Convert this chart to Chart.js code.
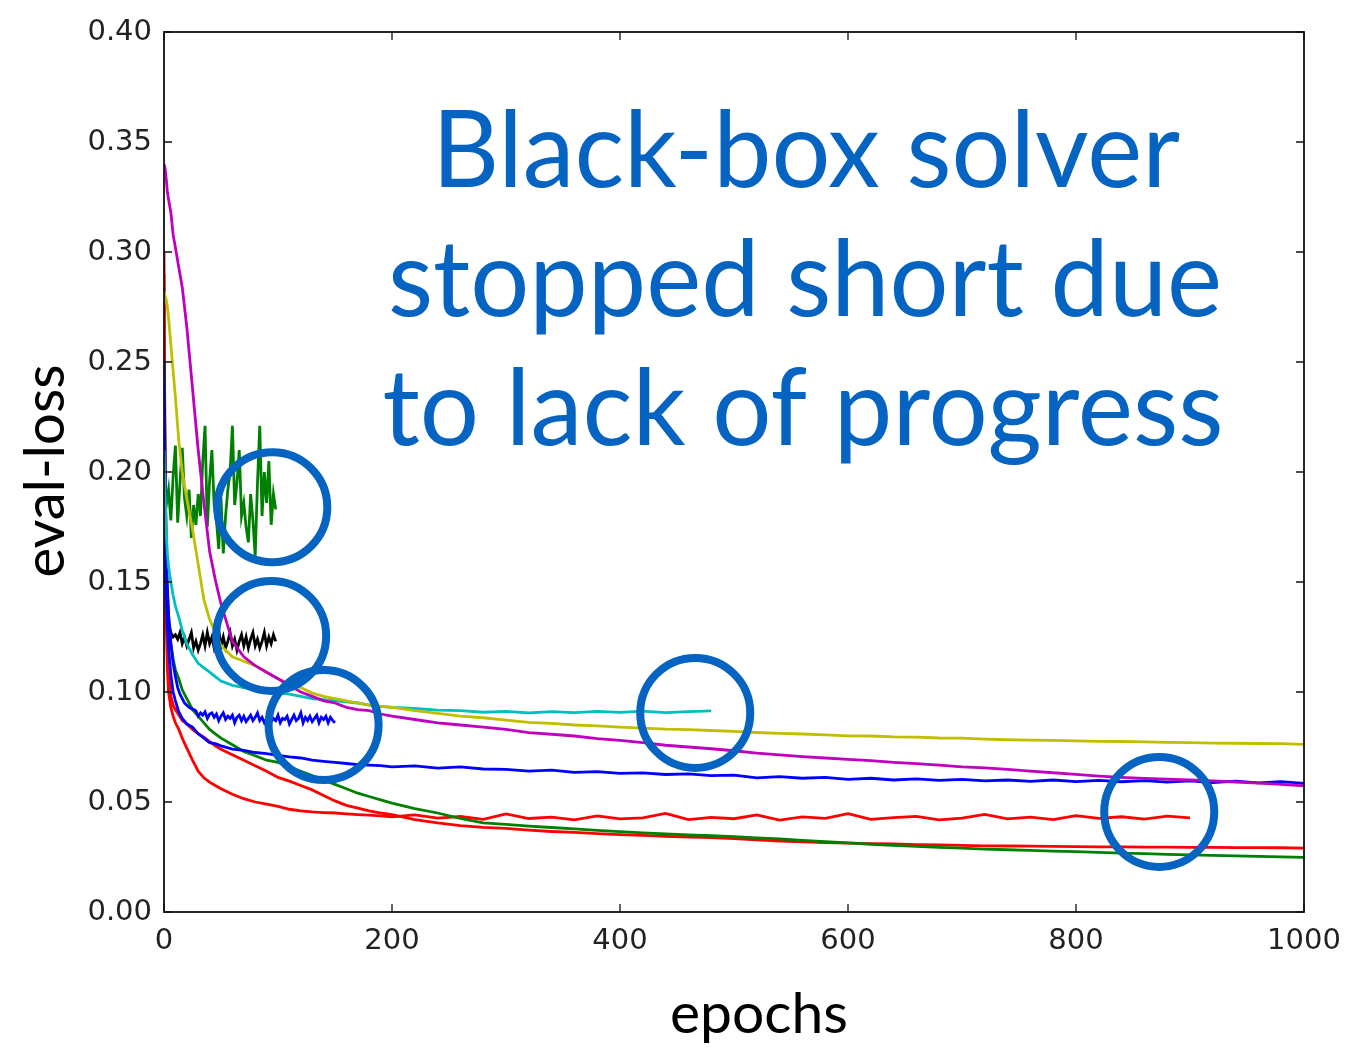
<!DOCTYPE html>
<html>
<head>
<meta charset="utf-8">
<title>eval-loss vs epochs</title>
<script src="https://cdn.jsdelivr.net/npm/chart.js@4.4.1/dist/chart.umd.min.js"></script>
<style>
    body { margin: 0; background: white; }
    #wrap { width: 1348px; height: 1048px; }
</style>
</head>
<body>
<div id="wrap"><canvas id="lossChart" width="1348" height="1048"></canvas></div>
<script>
// epochs used by the runs that go the whole way (or stop later on)
const epochs = [0,1,2,3,4,6,8,10,13,16,
    20,25,30,35,40,45,50,60,70,80,
    90,100,110,120,130,140,150,160,170,180,
    190,200,220,240,260,280,300,320,340,360,
    380,400,420,440,460,480,500,520,540,560,
    580,600,620,640,660,680,700,720,740,760,
    780,800,820,840,860,880,900,920,940,960,
    980,1000]

const magentaLoss = [0.340,0.338,0.333,0.327,0.324,0.318,0.308,0.302,0.293,0.284,
    0.266,0.238,0.210,0.186,0.164,0.151,0.140,0.123,0.116,0.112,
    0.109,0.106,0.103,0.100,0.098,0.096,0.095,0.093,0.092,0.0915,
    0.090,0.089,0.0875,0.086,0.085,0.084,0.083,0.0815,0.0808,0.080,
    0.0788,0.078,0.077,0.0758,0.075,0.0742,0.0733,0.0722,0.0714,0.0706,
    0.0700,0.0694,0.0688,0.0680,0.0674,0.0668,0.0660,0.0655,0.0648,0.0640,
    0.0633,0.0626,0.0618,0.0612,0.0607,0.0604,0.0600,0.0596,0.0591,0.0586,
    0.0580,0.0573]

const yellowLoss = [0.282,0.280,0.278,0.275,0.270,0.258,0.246,0.234,0.214,0.200,
    0.188,0.174,0.158,0.142,0.133,0.127,0.121,0.116,0.114,0.112,
    0.109,0.106,0.104,0.102,0.0995,0.098,0.097,0.096,0.095,0.094,
    0.0935,0.093,0.0915,0.0903,0.089,0.0883,0.0872,0.0862,0.0857,0.0850,
    0.0846,0.0840,0.0836,0.0831,0.0829,0.0825,0.0821,0.0816,0.0812,0.0809,
    0.0805,0.0801,0.0800,0.0796,0.0795,0.0791,0.0790,0.0786,0.0783,0.0781,
    0.0780,0.0778,0.0776,0.0775,0.0773,0.0771,0.0770,0.0768,0.0767,0.0766,
    0.0765,0.0762]

// stops at epoch 480
const cyanLoss = [0.210,0.190,0.172,0.163,0.157,0.150,0.144,0.139,0.134,0.128,
    0.122,0.117,0.113,0.111,0.109,0.107,0.105,0.103,0.102,0.101,
    0.100,0.0995,0.099,0.098,0.097,0.0965,0.096,0.0955,0.095,0.094,
    0.0935,0.093,0.0925,0.0918,0.0915,0.0908,0.0912,0.0905,0.0911,0.0906,
    0.0912,0.0907,0.0913,0.0906,0.0911,0.0914]

const blueLoss = [0.230,0.170,0.145,0.130,0.120,0.108,0.100,0.096,0.091,0.088,
    0.0855,0.084,0.081,0.079,0.077,0.0765,0.0755,0.0740,0.0735,0.0725,
    0.0720,0.0712,0.0705,0.0700,0.0690,0.0685,0.0680,0.0675,0.0670,0.0668,
    0.0665,0.0660,0.0664,0.0654,0.0660,0.0650,0.0648,0.0640,0.0645,0.0635,
    0.0638,0.0630,0.0632,0.0625,0.0628,0.0620,0.0622,0.0610,0.0615,0.0608,
    0.0612,0.0603,0.0608,0.0600,0.0605,0.0598,0.0603,0.0596,0.0600,0.0594,
    0.0600,0.0593,0.0598,0.0592,0.0597,0.0590,0.0596,0.0588,0.0595,0.0587,
    0.0593,0.0585]

const greenLoss = [0.250,0.190,0.160,0.145,0.135,0.122,0.115,0.110,0.106,0.101,
    0.097,0.092,0.089,0.086,0.083,0.081,0.079,0.076,0.073,0.071,
    0.069,0.068,0.066,0.064,0.062,0.060,0.058,0.056,0.054,0.0525,
    0.051,0.0495,0.047,0.045,0.0425,0.0405,0.0398,0.039,0.0384,0.0378,
    0.0371,0.0365,0.036,0.0355,0.035,0.0347,0.0342,0.0337,0.0332,0.0326,
    0.0320,0.0314,0.0308,0.0303,0.0298,0.0294,0.0290,0.0286,0.0283,0.0280,
    0.0277,0.0274,0.0271,0.0268,0.0265,0.0262,0.0260,0.0257,0.0255,0.0253,
    0.0251,0.0248]

const redLoss = [0.290,0.200,0.160,0.125,0.108,0.098,0.094,0.092,0.0895,0.087,
    0.0855,0.083,0.081,0.0795,0.0775,0.0755,0.074,0.0715,0.069,0.0665,
    0.064,0.0612,0.0595,0.0575,0.0555,0.053,0.0505,0.0485,0.0472,0.046,
    0.045,0.0443,0.0420,0.0405,0.0393,0.0385,0.0380,0.0372,0.0366,0.0362,
    0.0356,0.0352,0.0348,0.0344,0.0341,0.0338,0.0334,0.0328,0.0322,0.0319,
    0.0316,0.0313,0.0311,0.0309,0.0306,0.0305,0.0303,0.0301,0.0300,0.0299,
    0.0298,0.0297,0.0296,0.0296,0.0295,0.0295,0.0294,0.0294,0.0293,0.0293,
    0.0292,0.0290]

// the red run that stalls and stops at epoch 900
const redStalledLoss = [0.300,0.180,0.130,0.110,0.100,0.093,0.089,0.086,0.083,0.079,
    0.0745,0.069,0.064,0.061,0.059,0.0575,0.056,0.0535,0.0515,0.050,
    0.049,0.048,0.0467,0.0460,0.0455,0.0452,0.0450,0.0446,0.0443,0.0440,
    0.0437,0.0432,0.0441,0.0427,0.0434,0.0421,0.0446,0.0425,0.0431,0.0419,
    0.0437,0.0423,0.0428,0.0448,0.0420,0.0430,0.0424,0.0441,0.0418,0.0432,
    0.0426,0.0447,0.0421,0.0429,0.0435,0.0419,0.0427,0.0444,0.0423,0.0431,
    0.0420,0.0438,0.0426,0.0433,0.0422,0.0436,0.0428]

// short runs, every 2 epochs
const shortEpochs = [0,2,4,6,8,10,12,14,16,18,
    20,22,24,26,28,30,32,34,36,38,
    40,42,44,46,48,50,52,54,56,58,
    60,62,64,66,68,70,72,74,76,78,
    80,82,84,86,88,90,92,94,96,98,
    100,102,104,106,108,110,112,114,116,118,
    120,122,124,126,128,130,132,134,136,138,
    140,142,144,146,148,150]

const greenNoisyLoss = [0.200,0.185,0.192,0.178,0.198,0.212,0.177,0.195,0.211,0.188,
    0.180,0.192,0.170,0.185,0.176,0.190,0.180,0.205,0.221,0.175,
    0.196,0.210,0.185,0.178,0.165,0.188,0.163,0.180,0.192,0.200,
    0.221,0.185,0.195,0.210,0.180,0.186,0.175,0.168,0.190,0.178,
    0.162,0.195,0.221,0.180,0.200,0.186,0.205,0.176,0.190,0.183]

const blackLoss = [0.200,0.150,0.132,0.127,0.125,0.126,0.124,0.127,0.122,0.125,
    0.121,0.124,0.127,0.120,0.123,0.119,0.122,0.126,0.121,0.127,
    0.122,0.125,0.120,0.124,0.128,0.121,0.125,0.120,0.123,0.127,
    0.121,0.124,0.119,0.123,0.126,0.121,0.125,0.120,0.124,0.127,
    0.121,0.124,0.120,0.123,0.127,0.121,0.125,0.122,0.126,0.123]

const blueStalledLoss = [0.250,0.160,0.135,0.122,0.113,0.107,0.102,0.099,0.097,0.095,
    0.094,0.093,0.0925,0.092,0.0915,0.089,0.0905,0.0895,0.091,0.088,
    0.090,0.0905,0.0885,0.090,0.087,0.089,0.0905,0.0875,0.089,0.088,
    0.0895,0.086,0.0885,0.0895,0.087,0.089,0.0865,0.088,0.0895,0.087,
    0.0885,0.0905,0.087,0.0885,0.086,0.088,0.0895,0.0865,0.088,0.087,
    0.0895,0.086,0.088,0.0875,0.089,0.0855,0.0875,0.0895,0.087,0.088,
    0.0905,0.086,0.0885,0.087,0.089,0.0865,0.088,0.0895,0.086,0.0885,
    0.0875,0.089,0.086,0.0885,0.087,0.086]

// where the solver gave up (circled)
const circleEpochs = [95, 94, 140, 466, 873]
const circleLoss = [0.184, 0.1255, 0.085, 0.0905, 0.0455]

const noteLines = ["Black-box solver", "stopped short due", "to lack of progress"]
const noteBlue = "#0563c1"

function series(xs, ys, color){
    return {
        data: ys.map((v, i) => ({ x: xs[i], y: v })),
        borderColor: color,
        borderWidth: 2.8,
        pointRadius: 0,
        tension: 0,
        fill: false,
        order: 1
    }
}

// text drawn squeezed/stretched to a given width
function drawFitted(ctx, text, cx, baseline, width){
    const w = ctx.measureText(text).width
    ctx.save()
    ctx.translate(cx, baseline)
    ctx.scale(width / w, 1)
    ctx.fillText(text, 0, 0)
    ctx.restore()
}

const frameAndNotes = {
    id: 'frameAndNotes',
    afterDraw(chart){
        const ctx = chart.ctx
        const a = chart.chartArea
        const xs = chart.scales.x
        const ys = chart.scales.y

        // matplotlib style box with inward ticks
        ctx.save()
        ctx.strokeStyle = "#111"
        ctx.lineWidth = 1.8
        ctx.strokeRect(a.left, a.top, a.right - a.left, a.bottom - a.top)
        ctx.lineWidth = 1.3
        ctx.beginPath()
        xs.ticks.forEach(t => {
            const px = xs.getPixelForValue(t.value)
            ctx.moveTo(px, a.bottom); ctx.lineTo(px, a.bottom - 8)
            ctx.moveTo(px, a.top); ctx.lineTo(px, a.top + 8)
        })
        ys.ticks.forEach(t => {
            const py = ys.getPixelForValue(t.value)
            ctx.moveTo(a.left, py); ctx.lineTo(a.left + 8, py)
            ctx.moveTo(a.right, py); ctx.lineTo(a.right - 8, py)
        })
        ctx.stroke()
        ctx.restore()

        // the note
        ctx.save()
        ctx.fillStyle = noteBlue
        ctx.textAlign = "center"
        ctx.textBaseline = "alphabetic"
        ctx.font = "107px Lato"
        drawFitted(ctx, noteLines[0], 806, 187, 748)
        drawFitted(ctx, noteLines[1], 805, 316, 834)
        drawFitted(ctx, noteLines[2], 803, 445, 841)
        ctx.restore()

        // axis titles
        ctx.save()
        ctx.fillStyle = "black"
        ctx.textAlign = "center"
        ctx.font = "56px Lato"
        drawFitted(ctx, "epochs", 759, 1033, 178)
        ctx.translate(64, 471)
        ctx.rotate(-Math.PI / 2)
        drawFitted(ctx, "eval-loss", 0, 0, 213)
        ctx.restore()
    }
}

Chart.register({
    id: 'whiteBackground',
    beforeDraw(chart){
        const ctx = chart.ctx
        ctx.fillStyle = "white"
        ctx.fillRect(0, 0, chart.width, chart.height)
    }
})

const tickFont = { family: "DejaVu Sans", size: 29 }

const ctx = document.getElementById("lossChart").getContext("2d")
const chart = new Chart(ctx, {
    type: "line",
    data: {
        datasets: [
            {
                data: circleEpochs.map((e, i) => ({ x: e, y: circleLoss[i] })),
                showLine: false,
                pointRadius: 55,
                pointBorderWidth: 8,
                borderColor: noteBlue,
                pointBorderColor: noteBlue,
                pointBackgroundColor: "rgba(0,0,0,0)",
                order: 0
            },
            series(epochs, magentaLoss, "#bf00bf"),
            series(epochs, yellowLoss, "#bfbf00"),
            series(epochs, cyanLoss, "#00bfbf"),
            series(epochs, blueLoss, "#0000ff"),
            series(shortEpochs, blueStalledLoss, "#0000ff"),
            series(epochs, greenLoss, "#008000"),
            series(shortEpochs, greenNoisyLoss, "#008000"),
            series(shortEpochs, blackLoss, "#000000"),
            series(epochs, redLoss, "#ff0000"),
            series(epochs, redStalledLoss, "#ff0000")
        ]
    },
    options: {
        responsive: false,
        animation: false,
        // the big circles would otherwise push the plot area inwards
        layout: { autoPadding: false, padding: { left: 18, right: 44, top: 32, bottom: 6 } },
        plugins: {
            legend: { display: false },
            tooltip: { enabled: false }
        },
        scales: {
            x: {
                type: "linear",
                min: 0,
                max: 1000,
                grid: { display: false, drawTicks: false },
                border: { display: false },
                ticks: {
                    stepSize: 200,
                    padding: 12,
                    color: "#222",
                    font: tickFont,
                    maxRotation: 0,
                    callback: v => String(v)
                },
                afterFit(scale){
                    scale.height = 130
                    // the "1000" label fits in the layout padding already
                    scale.paddingRight = 0
                    scale.paddingLeft = 0
                }
            },
            y: {
                min: 0,
                max: 0.4,
                grid: { display: false, drawTicks: false },
                border: { display: false },
                ticks: {
                    stepSize: 0.05,
                    padding: 12,
                    color: "#222",
                    font: tickFont,
                    callback: v => v.toFixed(2)
                },
                afterFit(scale){ scale.width = 146 }
            }
        }
    },
    plugins: [frameAndNotes]
})
</script>
</body>
</html>
